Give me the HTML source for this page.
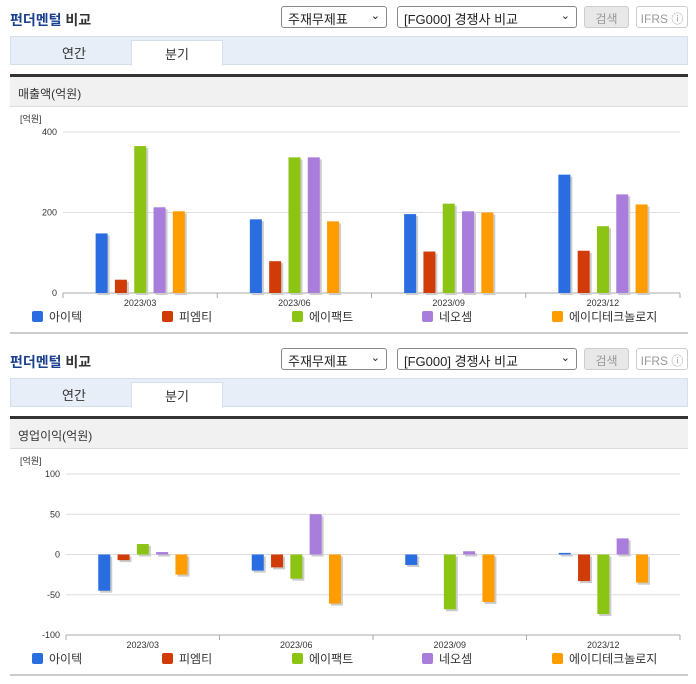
<!DOCTYPE html>
<html><head><meta charset="utf-8">
<style>
*{box-sizing:border-box;margin:0;padding:0}
body{width:696px;height:684px;background:#fff;font-family:"Liberation Sans","Noto Sans CJK KR",sans-serif;position:relative;overflow:hidden}
.sec{position:absolute;left:0;width:696px;height:342px}
.title{position:absolute;left:10px;top:10px;font-size:14px;font-weight:bold;color:#1a3f8f}
.title span{color:#333}
.sel{position:absolute;top:6px;height:22px;border:1px solid #888;border-radius:3px;background:#fff;font-size:13px;color:#222;padding:2px 0 0 6px}
.sel i{position:absolute;right:6px;top:2px;font-style:normal;font-size:11px}
.btn{position:absolute;top:6px;height:22px;border:1px solid #ccc;border-radius:3px;font-size:12px;color:#999;text-align:center;padding-top:3px}
.tabs{position:absolute;left:10px;top:36px;width:678px;height:29px;background:#e7eef8;border:1px solid #d6dfec}
.tab{position:absolute;top:0;height:28px;width:92px;text-align:center;font-size:13px;color:#333;padding-top:6px}
.tab.on{background:#fff;border:1px solid #d6dfec;border-bottom:none;top:3px;height:26px;padding-top:3px}
.hdr{position:absolute;left:10px;top:74px;width:678px;height:33px;background:#f1f1f1;border-top:3px solid #333;border-bottom:1px solid #ddd;font-size:12px;color:#333;padding:8px 0 0 8px}
.bot{position:absolute;left:10px;top:332px;width:678px;height:2px;background:#ccc}
svg{position:absolute;left:0;top:108px}
</style></head><body>

<div class="sec" id="s1" style="top:0">
<div class="title">펀더멘털 <span>비교</span></div>
<div class="sel" style="left:281px;width:106px">주재무제표<i>⌄</i></div>
<div class="sel" style="left:397px;width:180px">[FG000] 경쟁사 비교<i>⌄</i></div>
<div class="btn" style="left:584px;width:45px;background:#e8e8e8">검색</div>
<div class="btn" style="left:636px;width:52px">IFRS ⓘ</div>
<div class="tabs">
<div class="tab" style="left:17px">연간</div>
<div class="tab on" style="left:120px">분기</div></div>
<div class="hdr">매출액(억원)</div>
<svg id="c1" width="696" height="225"></svg>
<div class="bot"></div>
</div>

<div class="sec" id="s2" style="top:342px">
<div class="title">펀더멘털 <span>비교</span></div>
<div class="sel" style="left:281px;width:106px">주재무제표<i>⌄</i></div>
<div class="sel" style="left:397px;width:180px">[FG000] 경쟁사 비교<i>⌄</i></div>
<div class="btn" style="left:584px;width:45px;background:#e8e8e8">검색</div>
<div class="btn" style="left:636px;width:52px">IFRS ⓘ</div>
<div class="tabs">
<div class="tab" style="left:17px">연간</div>
<div class="tab on" style="left:120px">분기</div></div>
<div class="hdr">영업이익(억원)</div>
<svg id="c2" width="696" height="225"></svg>
<div class="bot"></div>
</div>

<script>
const categories = ["2023/03","2023/06","2023/09","2023/12"];
const seriesNames = ["아이텍","피엠티","에이팩트","네오셈","에이디테크놀로지"];
const colors = ["#2a6de0","#d13b08","#8cc414","#a97ddc","#ff9c00"];
const revA = [148,183,196,294];
const revB = [33,79,103,105];
const revC = [365,337,222,166];
const revD = [213,337,203,245];
const revE = [203,178,200,220];
const revTicks = [0,200,400];
const opA = [-45,-20,-13,2];
const opB = [-7,-16,0,-33];
const opC = [13,-30,-68,-74];
const opD = [3,50,4,20];
const opE = [-25,-61,-59,-35];
const opTicks = [-100,-50,0,50,100];

const NS="http://www.w3.org/2000/svg";
function mk(svg,tag,at){const e=document.createElementNS(NS,tag);for(const k in at)e.setAttribute(k,at[k]);svg.appendChild(e);return e;}
function draw(id,series,ticks,x0){
  const svg=document.getElementById(id);
  const x1=680,yTop=24,yBot=185;
  const mn=ticks[0],mx=ticks[ticks.length-1];
  const y=v=>yBot-(v-mn)/(mx-mn)*(yBot-yTop);
  const t=mk(svg,'text',{x:20,y:14,'font-size':9,fill:'#333'});t.textContent='[억원]';
  
  
  ticks.forEach(v=>{
    const l=mk(svg,'line',{x1:x0,x2:x1,y1:y(v),y2:y(v),stroke:'#ddd'});
    
    
    const tx=mk(svg,'text',{x:x0-6,y:y(v)+3,'font-size':9,fill:'#333','text-anchor':'end'});tx.textContent=v;
    
    
  });
  mk(svg,'line',{x1:x0,x2:x1,y1:yBot,y2:yBot,stroke:'#aaa'});
  const cw=(x1-x0)/categories.length;
  categories.forEach((c,i)=>{
    const tk=mk(svg,'line',{x1:x0+cw*i,x2:x0+cw*i,y1:yBot,y2:yBot+5,stroke:'#aaa'});
    
    
    const tx=mk(svg,'text',{x:x0+cw*(i+0.5),y:yBot+13,'font-size':9,fill:'#333','text-anchor':'middle'});tx.textContent=c;
    
    
  });
  mk(svg,'line',{x1:x1,x2:x1,y1:yBot,y2:yBot+5,stroke:'#aaa'});
  const z=y(Math.max(0,mn));
  series.forEach((s,si)=>{
    s.forEach((v,i)=>{
      const cx=x0+cw*(i+0.5)-44.5+si*19.3;
      const top=Math.min(y(v),z),h=Math.abs(y(v)-z);
      if(h<0.5)return;
      mk(svg,'rect',{x:cx+2,y:top+2,width:12,height:h,fill:'#ccc'});
      const r=mk(svg,'rect',{x:cx,y:top,width:12,height:h,fill:colors[si]});
      
      
    });
  });
  const lx=[32,162,292,422,552];
  seriesNames.forEach((n,si)=>{
    const r=mk(svg,'rect',{x:lx[si],y:203,width:11,height:11,rx:2,fill:colors[si]});
    
    
    const tx=mk(svg,'text',{x:lx[si]+17,y:213,'font-size':12,fill:'#333'});tx.textContent=n;
    
    
  });
}
draw('c1',[revA,revB,revC,revD,revE],revTicks,63);
draw('c2',[opA,opB,opC,opD,opE],opTicks,66);
</script>
</body></html>
